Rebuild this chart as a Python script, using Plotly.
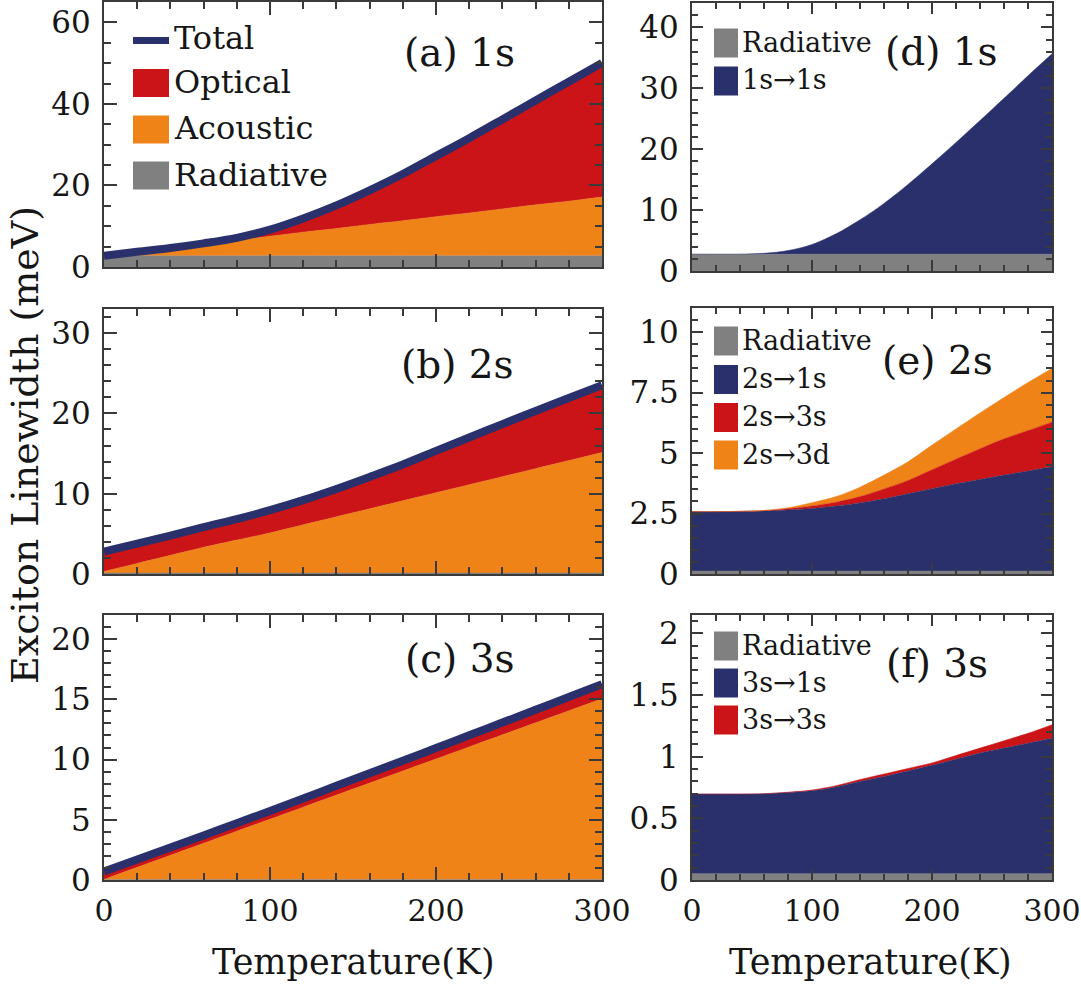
import plotly.graph_objects as go

# ---------------- data ----------------
T = [0, 20, 40, 60, 80, 100, 120, 140, 160, 180, 200, 220, 240, 260, 280, 300]

# 1s exciton
rad_1s = [2.75, 2.75, 2.75, 2.75, 2.75, 2.75, 2.75, 2.75, 2.75, 2.75, 2.75, 2.75, 2.75, 2.75, 2.75, 2.75]
ac_1s = [0.0, 1.0, 1.9, 2.9, 3.8, 4.8, 5.8, 6.7, 7.7, 8.6, 9.6, 10.5, 11.5, 12.5, 13.4, 14.4]
op_1s_1s = [0.0, 0.0, 0.01, 0.15, 0.6, 1.6, 3.35, 5.65, 8.35, 11.45, 14.85, 18.35, 21.95, 25.6, 29.3, 32.9]

# 2s exciton
rad_2s = [0.12, 0.12, 0.12, 0.12, 0.12, 0.12, 0.12, 0.12, 0.12, 0.12, 0.12, 0.12, 0.12, 0.12, 0.12, 0.12]
ac_2s = [0.2, 1.2, 2.2, 3.2, 4.1, 5.0, 6.0, 7.0, 8.0, 9.0, 10.0, 11.0, 12.0, 13.0, 14.0, 15.0]
op_2s_1s = [2.46, 2.46, 2.47, 2.49, 2.53, 2.59, 2.69, 2.82, 2.99, 3.20, 3.41, 3.61, 3.79, 3.97, 4.14, 4.31]
op_2s_3s = [0.0, 0.0, 0.0, 0.01, 0.05, 0.10, 0.16, 0.26, 0.41, 0.55, 0.78, 1.02, 1.27, 1.50, 1.67, 1.85]
op_2s_3d = [0.0, 0.0, 0.0, 0.01, 0.04, 0.14, 0.23, 0.39, 0.57, 0.77, 1.02, 1.25, 1.48, 1.71, 1.99, 2.22]

# 3s exciton
rad_3s = [0.05, 0.05, 0.05, 0.05, 0.05, 0.05, 0.05, 0.05, 0.05, 0.05, 0.05, 0.05, 0.05, 0.05, 0.05, 0.05]
ac_3s = [0.0, 1.0, 2.0, 3.0, 4.0, 5.0, 6.0, 7.0, 8.0, 9.0, 10.0, 11.0, 12.0, 13.0, 14.0, 15.0]
op_3s_1s = [0.647, 0.647, 0.647, 0.65, 0.66, 0.674, 0.705, 0.75, 0.79, 0.835, 0.88, 0.93, 0.98, 1.02, 1.06, 1.10]
op_3s_3s = [0.0, 0.0, 0.0, 0.0, 0.002, 0.006, 0.01, 0.015, 0.02, 0.02, 0.02, 0.03, 0.04, 0.06, 0.08, 0.11]

x_ticks = [0, 100, 200, 300]

# ---------------- styling ----------------
W, H = 1081, 988
FONT = "DejaVu Serif"
NAVY = "#29306c"
RED = "#cb1418"
ORANGE = "#ef8318"
GREY = "#808080"
AXC = "#3a3a3a"
TXT = "#161616"


def px_x(a, b):
    return [a / W, b / W]


def px_y(top, bottom):
    return [1 - bottom / H, 1 - top / H]


panels = {
    1: dict(x=(104, 602), y=(2, 267), yr=[0, 65], dt=20, mdt=5),
    2: dict(x=(104, 602), y=(309, 574), yr=[0, 33], dt=10, mdt=2),
    3: dict(x=(104, 602), y=(615, 880), yr=[0, 22], dt=5, mdt=1),
    4: dict(x=(692, 1052), y=(3, 271), yr=[0, 44], dt=10, mdt=2),
    5: dict(x=(692, 1052), y=(308, 574), yr=[0, 11], dt=2.5, mdt=0.5),
    6: dict(x=(692, 1052), y=(615, 880), yr=[0, 2.15], dt=0.5, mdt=0.1),
}

fig = go.Figure()


def add_stack(idx, series):
    sfx = "" if idx == 1 else str(idx)
    for name, vals, col in series:
        fig.add_trace(go.Scatter(
            x=T, y=vals, name=name, mode="lines",
            stackgroup="s%d" % idx,
            line=dict(width=0.5, color=col, shape="spline", smoothing=0.9),
            fillcolor=col, xaxis="x" + sfx, yaxis="y" + sfx, showlegend=False,
        ))


def sum_lists(*ls):
    return [sum(v) for v in zip(*ls)]


# left column: radiative / acoustic / optical, plus total line
left = [
    (1, rad_1s, ac_1s, op_1s_1s),
    (2, rad_2s, ac_2s, sum_lists(op_2s_1s, op_2s_3s, op_2s_3d)),
    (3, rad_3s, ac_3s, sum_lists(op_3s_1s, op_3s_3s)),
]
for idx, rad, ac, op in left:
    add_stack(idx, [("Radiative", rad, GREY), ("Acoustic", ac, ORANGE), ("Optical", op, RED)])
    sfx = "" if idx == 1 else str(idx)
    fig.add_trace(go.Scatter(
        x=T, y=sum_lists(rad, ac, op), name="Total", mode="lines",
        line=dict(width=8, color=NAVY, shape="spline", smoothing=0.9),
        xaxis="x" + sfx, yaxis="y" + sfx, showlegend=False,
    ))

# right column: optical decomposition
add_stack(4, [("Radiative", rad_1s, GREY), ("1s→1s", op_1s_1s, NAVY)])
add_stack(5, [("Radiative", rad_2s, GREY), ("2s→1s", op_2s_1s, NAVY),
              ("2s→3s", op_2s_3s, RED), ("2s→3d", op_2s_3d, ORANGE)])
add_stack(6, [("Radiative", rad_3s, GREY), ("3s→1s", op_3s_1s, NAVY), ("3s→3s", op_3s_3s, RED)])

layout = dict(
    width=W, height=H, margin=dict(l=0, r=0, t=0, b=0),
    paper_bgcolor="white", plot_bgcolor="white", showlegend=False,
    font=dict(family=FONT, color=TXT),
)

for idx, p in panels.items():
    sfx = "" if idx == 1 else str(idx)
    big = idx <= 3
    common = dict(
        showline=True, linecolor=AXC, linewidth=2, mirror="allticks",
        ticks="inside", tickcolor=AXC, tickwidth=2,
        ticklen=13 if big else 11,
        showgrid=False, zeroline=False, automargin=False,
        ticklabeloverflow="allow",
    )
    layout["xaxis" + sfx] = dict(
        common, domain=px_x(*p["x"]), range=[0, 300], anchor="y" + sfx,
        tickvals=x_ticks, showticklabels=idx in (3, 6), ticklabelstandoff=3,
        tickfont=dict(family=FONT, size=30, color=TXT),
        minor=dict(ticks="inside", dtick=20, ticklen=7 if big else 6, tickwidth=2, tickcolor=AXC),
    )
    layout["yaxis" + sfx] = dict(
        common, domain=px_y(*p["y"]), range=p["yr"], anchor="x" + sfx,
        dtick=p["dt"], tick0=0, ticklabelstandoff=5,
        tickfont=dict(family=FONT, size=31, color=TXT),
        minor=dict(ticks="inside", dtick=p["mdt"], ticklen=7 if big else 6, tickwidth=2, tickcolor=AXC),
    )

fig.update_layout(**layout)

shapes = []
annotations = []


def P(x, y):
    return x / W, 1 - y / H


def text(x, y, s, size, xanchor="left"):
    px, py = P(x, y)
    annotations.append(dict(x=px, y=py, xref="paper", yref="paper", text=s, showarrow=False,
                            xanchor=xanchor, yanchor="middle",
                            font=dict(family=FONT, size=size, color=TXT)))


def swatch(x0, x1, yc, h, col):
    a0, b0 = P(x0, yc + h / 2)
    a1, b1 = P(x1, yc - h / 2)
    shapes.append(dict(type="rect", xref="paper", yref="paper", x0=a0, x1=a1, y0=b0, y1=b1,
                       fillcolor=col, line=dict(width=0)))


# legend in (a)
lx0, lx1, ltx = 133, 169, 172
a0, b0 = P(lx0, 40.5)
a1, _ = P(lx1, 40.5)
shapes.append(dict(type="line", xref="paper", yref="paper", x0=a0, x1=a1, y0=b0, y1=b0,
                   line=dict(color=NAVY, width=7)))
text(ltx, 38, "Total", 32)
for yc, name, col in [(83, "Optical", RED), (129.5, "Acoustic", ORANGE), (175.5, "Radiative", GREY)]:
    swatch(lx0, lx1, yc, 28, col)
    text(ltx, yc - 1, name, 32)

# legends on the right
rx0, rx1, rtx = 714, 738, 740
for items in [
    [(43, "Radiative", GREY), (81, "1s→1s", NAVY)],
    [(341, "Radiative", GREY), (379.5, "2s→1s", NAVY), (417.5, "2s→3s", RED), (455, "2s→3d", ORANGE)],
    [(646, "Radiative", GREY), (683, "3s→1s", NAVY), (720, "3s→3s", RED)],
]:
    for yc, name, col in items:
        swatch(rx0, rx1, yc, 29, col)
        text(rtx, yc - 1, name, 27)

# panel labels
for x, y, s in [(459, 53, "(a) 1s"), (457, 364, "(b) 2s"), (460, 658, "(c) 3s"),
                (941, 51, "(d) 1s"), (937, 360, "(e) 2s"), (937, 663, "(f) 3s")]:
    text(x, y, s, 39, xanchor="center")

# axis titles
text(353, 962, "Temperature(K)", 35, xanchor="center")
text(870, 962, "Temperature(K)", 35, xanchor="center")
px_, py_ = P(25, 445)
annotations.append(dict(x=px_, y=py_, xref="paper", yref="paper", text="Exciton Linewidth (meV)",
                        showarrow=False, textangle=-90, xanchor="center", yanchor="middle",
                        font=dict(family=FONT, size=38, color=TXT)))

fig.update_layout(shapes=shapes, annotations=annotations)
fig.write_html("out.html", config={"displayModeBar": False},
               post_script="document.body.style.margin='0px';")
